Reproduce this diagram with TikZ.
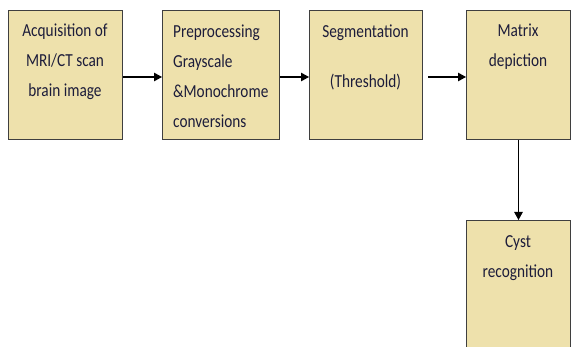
\documentclass[tikz,border=0pt]{standalone}
\usepackage{fontspec}
\usepackage{graphicx}
\setmainfont{Carlito}
\usetikzlibrary{arrows.meta}
\definecolor{boxfill}{HTML}{EEE1AC}
\definecolor{boxedge}{HTML}{3F3F3F}
\definecolor{ink}{HTML}{1C1C3A}
% captions are set slightly taller than wide; the baseline is the last line's
\newcommand{\capc}[1]{\scalebox{1}[1.2]{\begin{tabular}[b]{@{}c@{}}#1\end{tabular}}}
\newcommand{\capl}[1]{\scalebox{1}[1.2]{\begin{tabular}[b]{@{}l@{}}#1\end{tabular}}}
\begin{document}
\begin{tikzpicture}[x=1pt,y=-1pt,
  stage/.style={draw=boxedge, line width=1pt, fill=boxfill, inner sep=0pt, anchor=north west},
  stagetext/.style={font=\fontsize{15.3}{25}\selectfont, text=ink, inner sep=0pt, anchor=base},
  flow/.style={-{Triangle[length=8pt,width=8.5pt]}, line width=1.1pt, black}]
\clip (0,0) rectangle (571,347);
\fill[white] (0,0) rectangle (571,347);

% stage boxes
\node[stage, minimum width=114pt, minimum height=129pt] (acq) at (8,10) {};
\node[stage, minimum width=117pt, minimum height=129pt] (pre) at (162,10) {};
\node[stage, minimum width=113pt, minimum height=129pt] (seg) at (309,10) {};
\node[stage, minimum width=104pt, minimum height=129pt] (mat) at (466,10) {};
\node[stage, minimum width=104pt, minimum height=150pt] (cyst) at (466,220) {};

% box captions (placed at the baseline of their last line)
\node[stagetext] (acqtext) at (65,97) {\capc{Acquisition of\\MRI/CT scan\\brain image}};
\node[stagetext, anchor=base west] (pretext) at (173,128) {\capl{Preprocessing\\Grayscale\\\&Monochrome\\conversions}};
\node[stagetext] (segtext) at (365.5,38) {\capc{Segmentation}};
\node[stagetext] (thrtext) at (365.5,88) {\capc{(Threshold)}};
\node[stagetext] (mattext) at (518,67) {\capc{Matrix\\depiction}};
\node[stagetext] (cysttext) at (518,278) {\capc{Cyst\\recognition}};

% connectors
\draw[flow] ([yshift=-2pt]acq.east) -- ([yshift=-2pt]pre.west);
\draw[flow] ([yshift=-2pt]pre.east) -- ([yshift=-2pt]seg.west);
\draw[flow] ([xshift=5pt,yshift=-2pt]seg.east) -- ([yshift=-2pt]mat.west);
\draw[flow] (mat.south) -- (cyst.north);
\end{tikzpicture}
\end{document}
